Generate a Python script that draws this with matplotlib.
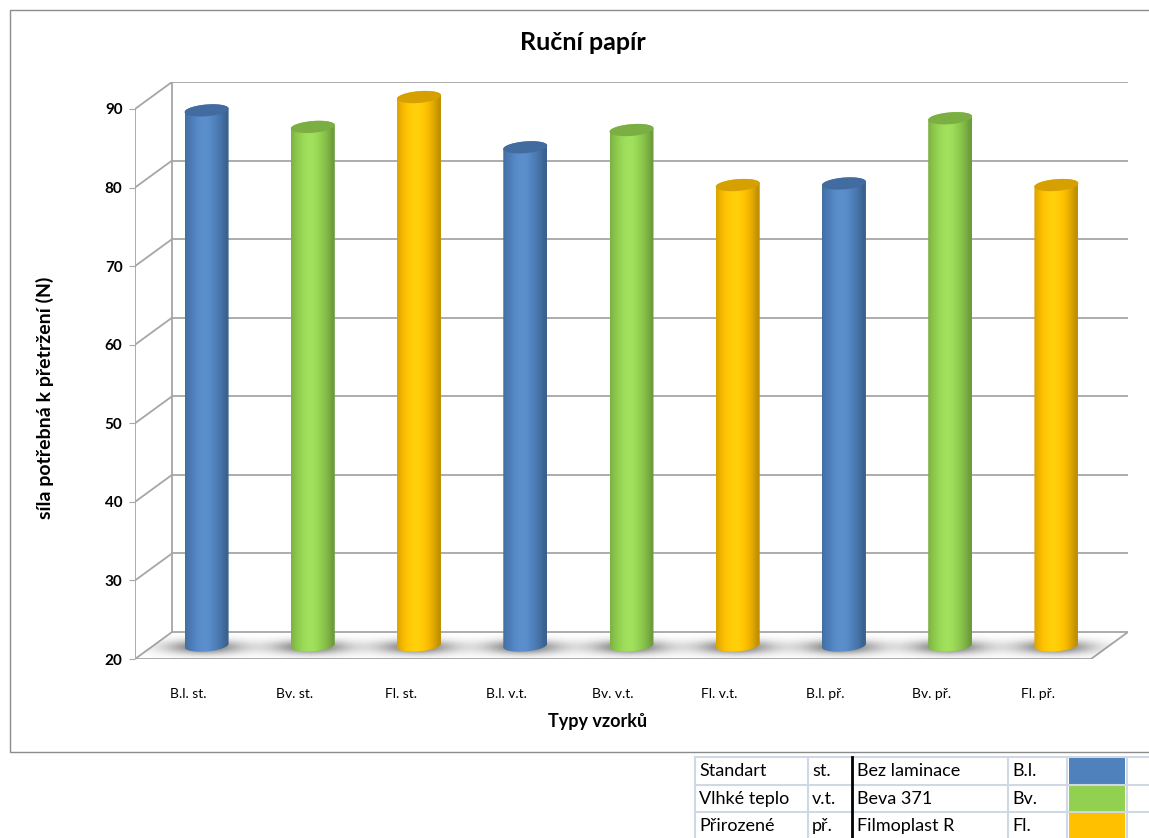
import matplotlib.pyplot as plt
import numpy as np
from matplotlib.colors import to_rgb
from matplotlib.patches import Polygon, Rectangle

plt.rcParams['font.family'] = ['Lato', 'DejaVu Sans']

title = 'Ruční papír'
ylabel = 'síla potřebná k přetržení (N)'
xlabel = 'Typy vzorků'
categories = ['B.l. st.', 'Bv. st.', 'Fl. st.', 'B.l. v.t.', 'Bv. v.t.', 'Fl. v.t.',
              'B.l. př.', 'Bv. př.', 'Fl. př.']
values = [88.1, 86.0, 89.8, 83.4, 85.6, 78.6, 78.8, 87.1, 78.6]
yticks = [20, 30, 40, 50, 60, 70, 80, 90]

# legend table under the chart
conditions = ['Standart', 'Vlhké teplo', 'Přirozené']
condition_abbr = ['st.', 'v.t.', 'př.']
material_names = ['Bez laminace', 'Beva 371', 'Filmoplast R']
material_abbr = ['B.l.', 'Bv.', 'Fl.']
material_colors = ['#4F81BD', '#92D050', '#FFC000']

W, H = 1149, 838
fig = plt.figure(figsize=(W / 100, H / 100), dpi=100)

# background axes in pixel units (border + table)
bg = fig.add_axes([0, 0, 1, 1])
bg.set_xlim(0, W)
bg.set_ylim(H, 0)
bg.axis('off')
bg.add_patch(Rectangle((10, 10), 1200, 742, fill=False, edgecolor='#8C8C8C', lw=1))

# main plot, front axis at x=135px, floor front at y=659px
ax = fig.add_axes([135 / W, (H - 659) / H, (1128 - 135) / W, 577 / H])
ax.patch.set_visible(False)
DX, DY = 0.348, 3.43  # depth offset (category units, value units)
n = len(categories)
ax.set_xlim(-0.5, n - 0.5 + DX)
ax.set_ylim(20, 90 + DY)
for sp in ax.spines.values():
    sp.set_visible(False)

gc = '#A6A6A6'
lw = 1.3
x0, x1 = -0.5, n - 0.5
for t in yticks:
    ax.plot([x0 + DX, x1 + DX], [t + DY, t + DY], color=gc, lw=lw, zorder=1)
    ax.plot([x0, x0 + DX], [t, t + DY], color=gc, lw=lw, zorder=1)
ax.plot([x0 + DX] * 2, [20 + DY, 90 + DY], color=gc, lw=lw, zorder=1)
ax.plot([x0, x0], [20, 90], color=gc, lw=lw, zorder=1)
ax.plot([x0, x1], [20, 20], color=gc, lw=lw, zorder=1)
ax.plot([x1, x1 + DX], [20, 20 + DY], color=gc, lw=lw, zorder=1)

ax.set_yticks(yticks)
ax.set_yticklabels([str(t) for t in yticks], fontweight='bold')
ax.tick_params(axis='y', length=4, color=gc, pad=5, labelsize=11)
ax.set_xticks(range(n))
ax.set_xticklabels(categories, fontsize=10)
ax.tick_params(axis='x', length=0, pad=21)

floor = Polygon([[x0, 20], [x1, 20], [x1 + DX, 20 + DY], [x0 + DX, 20 + DY]],
                closed=True, transform=ax.transData)

# cylinders
a, b, s = 0.207, 0.75, 0.22
tt = np.linspace(0, 2 * np.pi, 120)
u = np.linspace(-1, 1, 80)
bright = 0.8 + 0.27 * np.clip(1 - ((u + 0.1) / 1.0) ** 2, 0, 1) - 0.05 * np.clip(u, 0, 1)

for i, (cat, v) in enumerate(zip(categories, values)):
    col = np.array(to_rgb(material_colors[material_abbr.index(cat.split()[0])]))
    xc = i + DX / 2
    yb = 20 + DY / 2
    yt = v + DY / 2

    # shadow on the floor
    sx = np.linspace(-0.75, 0.8, 140)
    sy = np.linspace(20, 20 + DY, 40)
    SX, SY = np.meshgrid(sx, sy)
    alpha = 0.75 * np.exp(-((SX + 0.02) / 0.36) ** 2) * np.exp(-((SY - yb + 0.2) / 0.9) ** 2)
    img = np.zeros((40, 140, 4))
    img[..., :3] = 0.3
    img[..., 3] = alpha
    im = ax.imshow(img, extent=[xc - 0.75, xc + 0.8, 20, 20 + DY], origin='lower',
                   aspect='auto', zorder=2, interpolation='bilinear')
    im.set_clip_path(floor)

    # body
    tb = np.linspace(np.pi, 2 * np.pi, 60)
    tf = np.linspace(0, np.pi, 60)
    bot = np.c_[xc + a * np.cos(tb), yb + b * np.sin(tb) + s * np.cos(tb)]
    top = np.c_[xc + a * np.cos(tf), yt + b * np.sin(tf) + s * np.cos(tf)]
    body = Polygon(np.vstack([bot, top]), closed=True, transform=ax.transData)
    shade = np.clip(col[None, :] * bright[:, None], 0, 1)
    hi = np.clip(bright - 1, 0, None)[:, None]
    shade = np.clip(shade + (1 - col[None, :]) * hi * 0.6, 0, 1)
    im = ax.imshow(shade[None, :, :], extent=[xc - a, xc + a, yb - 2, yt + 2],
                   aspect='auto', zorder=3, interpolation='bilinear')
    im.set_clip_path(body)

    ell = np.c_[xc + a * np.cos(tt), yt + b * np.sin(tt) + s * np.cos(tt)]
    ax.add_patch(Polygon(ell, closed=True, facecolor=col * 0.84, edgecolor='none', zorder=4))

ax.set_xlim(-0.5, n - 0.5 + DX)
ax.set_ylim(20, 90 + DY)

fig.text(583 / W, 1 - 42 / H, title, ha='center', va='center', fontsize=18, fontweight='bold')
fig.text(45 / W, 1 - 398 / H, ylabel, ha='center', va='center', rotation=90,
         fontsize=14, fontweight='bold')
fig.text(598 / W, 1 - 721 / H, xlabel, ha='center', va='center', fontsize=13, fontweight='bold')

# table
tc = '#D0D7E5'
rows_y = [757, 785, 812]
for y in rows_y:
    bg.plot([695, W], [y, y], color=tc, lw=1.5)
for x in [695, 808, 1008, 1067, 1127]:
    bg.plot([x, x], [757, H], color=tc, lw=1.5)
bg.plot([852, 852], [757, H], color='black', lw=2)
for j, y in enumerate(rows_y):
    cy = y + 14
    bg.text(699, cy, conditions[j], va='center', fontsize=13)
    bg.text(812, cy, condition_abbr[j], va='center', fontsize=13)
    bg.text(857, cy, material_names[j], va='center', fontsize=13)
    bg.text(1012, cy, material_abbr[j], va='center', fontsize=13)
    bg.add_patch(Rectangle((1069, y + 1), 56, 26, facecolor=material_colors[j], edgecolor='none'))

fig.savefig('out.png', dpi=100)
plt.close()
